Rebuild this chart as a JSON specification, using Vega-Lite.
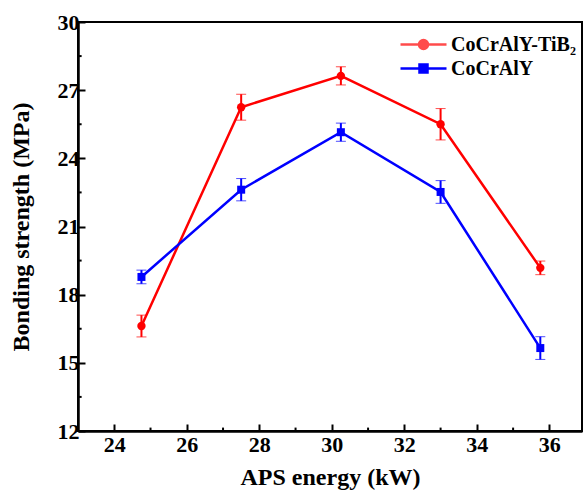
{
  "$schema": "https://vega.github.io/schema/vega-lite/v6.json",
  "autosize": {"type": "none"},
  "padding": {"left": 78, "top": 22, "right": 3, "bottom": 61},
  "width": 504,
  "height": 409,
  "background": "white",
  "config": {
    "font": "Liberation Serif",
    "view": {"stroke": "black", "strokeWidth": 2},
    "style": {
      "guide-label": {"font": "Liberation Serif", "fontWeight": "bold", "fontSize": 22, "fill": "black"},
      "guide-title": {"font": "Liberation Serif", "fontWeight": "bold", "fontSize": 24, "fill": "black"}
    },
    "axis": {
      "domainColor": "black",
      "domainWidth": 2.5,
      "tickColor": "black",
      "tickWidth": 2,
      "grid": false,
      "labelFont": "Liberation Serif",
      "labelFontWeight": "bold",
      "labelFontSize": 22,
      "labelColor": "black",
      "titleFont": "Liberation Serif",
      "titleFontWeight": "bold",
      "titleFontSize": 24,
      "titleColor": "black"
    },
    "legend": {
      "orient": "none",
      "title": null,
      "symbolSize": 400,
      "symbolStrokeWidth": 2.5,
      "labelFont": "Liberation Serif",
      "labelFontWeight": "bold",
      "labelFontSize": 20,
      "labelColor": "black",
      "labelOffset": 16
    }
  },
  "data": {
    "values": [
      {"energy": 24.75, "strength": 16.62, "err": 0.48, "coating": "CoCrAlY-TiB₂"},
      {"energy": 27.5, "strength": 26.25, "err": 0.57, "coating": "CoCrAlY-TiB₂"},
      {"energy": 30.25, "strength": 27.63, "err": 0.4, "coating": "CoCrAlY-TiB₂"},
      {"energy": 33.0, "strength": 25.5, "err": 0.69, "coating": "CoCrAlY-TiB₂"},
      {"energy": 35.75, "strength": 19.18, "err": 0.3, "coating": "CoCrAlY-TiB₂"},
      {"energy": 24.75, "strength": 18.78, "err": 0.3, "coating": "CoCrAlY"},
      {"energy": 27.5, "strength": 22.62, "err": 0.49, "coating": "CoCrAlY"},
      {"energy": 30.25, "strength": 25.15, "err": 0.4, "coating": "CoCrAlY"},
      {"energy": 33.0, "strength": 22.52, "err": 0.5, "coating": "CoCrAlY"},
      {"energy": 35.75, "strength": 15.65, "err": 0.5, "coating": "CoCrAlY"}
    ]
  },
  "layer": [
    {
      "mark": {"type": "rule", "stroke": "black", "strokeWidth": 2},
      "data": {"values": [{"m": 25}, {"m": 27}, {"m": 29}, {"m": 31}, {"m": 33}, {"m": 35}]},
      "encoding": {
        "x": {"field": "m", "type": "quantitative", "title": "APS energy (kW)"},
        "y": {"datum": 12, "type": "quantitative", "title": "Bonding strength (MPa)"},
        "y2": {"datum": 12.15}
      }
    },
    {
      "mark": {"type": "rule", "stroke": "black", "strokeWidth": 2},
      "data": {"values": [{"m": 13.5}, {"m": 16.5}, {"m": 19.5}, {"m": 22.5}, {"m": 25.5}, {"m": 28.5}]},
      "encoding": {
        "y": {"field": "m", "type": "quantitative", "title": "Bonding strength (MPa)"},
        "x": {"datum": 23, "type": "quantitative", "title": "APS energy (kW)"},
        "x2": {"datum": 23.1}
      }
    },
    {
      "mark": {"type": "line", "strokeWidth": 2.5},
      "encoding": {
        "x": {
          "field": "energy",
          "type": "quantitative",
          "title": "APS energy (kW)",
          "scale": {"domain": [23, 36.9], "nice": false, "zero": false},
          "axis": {
            "values": [24, 26, 28, 30, 32, 34, 36],
            "tickSize": -7,
            "labelFont": "Liberation Serif",
            "labelFontWeight": "bold",
            "labelFontSize": 22,
            "labelPadding": 10,
            "titlePadding": 10,
            "encode": {
              "labels": {
                "font": {"value": "Liberation Serif"},
                "fontWeight": {"value": "bold"},
                "fontSize": {"value": 22}
              }
            }
          }
        },
        "y": {
          "field": "strength",
          "type": "quantitative",
          "title": "Bonding strength (MPa)",
          "scale": {"domain": [12, 30], "nice": false, "zero": false},
          "axis": {
            "values": [12, 15, 18, 21, 24, 27, 30],
            "tickSize": -7,
            "labelFont": "Liberation Serif",
            "labelFontWeight": "bold",
            "labelFontSize": 22,
            "labelPadding": 6,
            "titlePadding": 24,
            "encode": {
              "labels": {
                "font": {"value": "Liberation Serif"},
                "fontWeight": {"value": "bold"},
                "fontSize": {"value": 22}
              }
            }
          }
        },
        "color": {
          "field": "coating",
          "type": "nominal",
          "scale": {"domain": ["CoCrAlY-TiB₂", "CoCrAlY"], "range": ["#FF0000", "#0000FF"]},
          "legend": {
            "values": ["CoCrAlY-TiB₂"],
            "legendX": 334,
            "legendY": 11,
            "symbolType": "M-2.3,0H2.3M0.45,0A0.45,0.45,0,1,1,-0.45,0A0.45,0.45,0,1,1,0.45,0Z",
            "symbolFillColor": "#FF0000",
            "symbolStrokeColor": "#FF0000"
          }
        }
      }
    },
    {
      "mark": {"type": "errorbar", "ticks": {"size": 10, "strokeWidth": 2}, "rule": {"strokeWidth": 2}},
      "encoding": {
        "x": {"field": "energy", "type": "quantitative", "title": "APS energy (kW)"},
        "y": {"field": "strength", "type": "quantitative", "title": "Bonding strength (MPa)"},
        "yError": {"field": "err"},
        "color": {"field": "coating", "type": "nominal"}
      }
    },
    {
      "transform": [{"filter": "datum.coating === 'CoCrAlY-TiB₂'"}],
      "mark": {"type": "point", "shape": "circle", "filled": true, "opacity": 1, "size": 70},
      "encoding": {
        "x": {"field": "energy", "type": "quantitative", "title": "APS energy (kW)"},
        "y": {"field": "strength", "type": "quantitative", "title": "Bonding strength (MPa)"},
        "color": {"field": "coating", "type": "nominal"}
      }
    },
    {
      "transform": [{"filter": "datum.coating === 'CoCrAlY'"}],
      "mark": {"type": "point", "shape": "square", "filled": true, "size": 64},
      "encoding": {
        "x": {"field": "energy", "type": "quantitative", "title": "APS energy (kW)"},
        "y": {"field": "strength", "type": "quantitative", "title": "Bonding strength (MPa)"},
        "color": {"field": "coating", "type": "nominal"},
        "opacity": {
          "field": "coating",
          "type": "nominal",
          "scale": {"domain": ["CoCrAlY"], "range": [1]},
          "legend": {
            "legendX": 334,
            "legendY": 35,
            "symbolType": "M-2.3,0H2.3M-0.4,-0.4H0.4V0.4H-0.4Z",
            "symbolFillColor": "#0000FF",
            "symbolStrokeColor": "#0000FF"
          }
        }
      }
    }
  ]
}
